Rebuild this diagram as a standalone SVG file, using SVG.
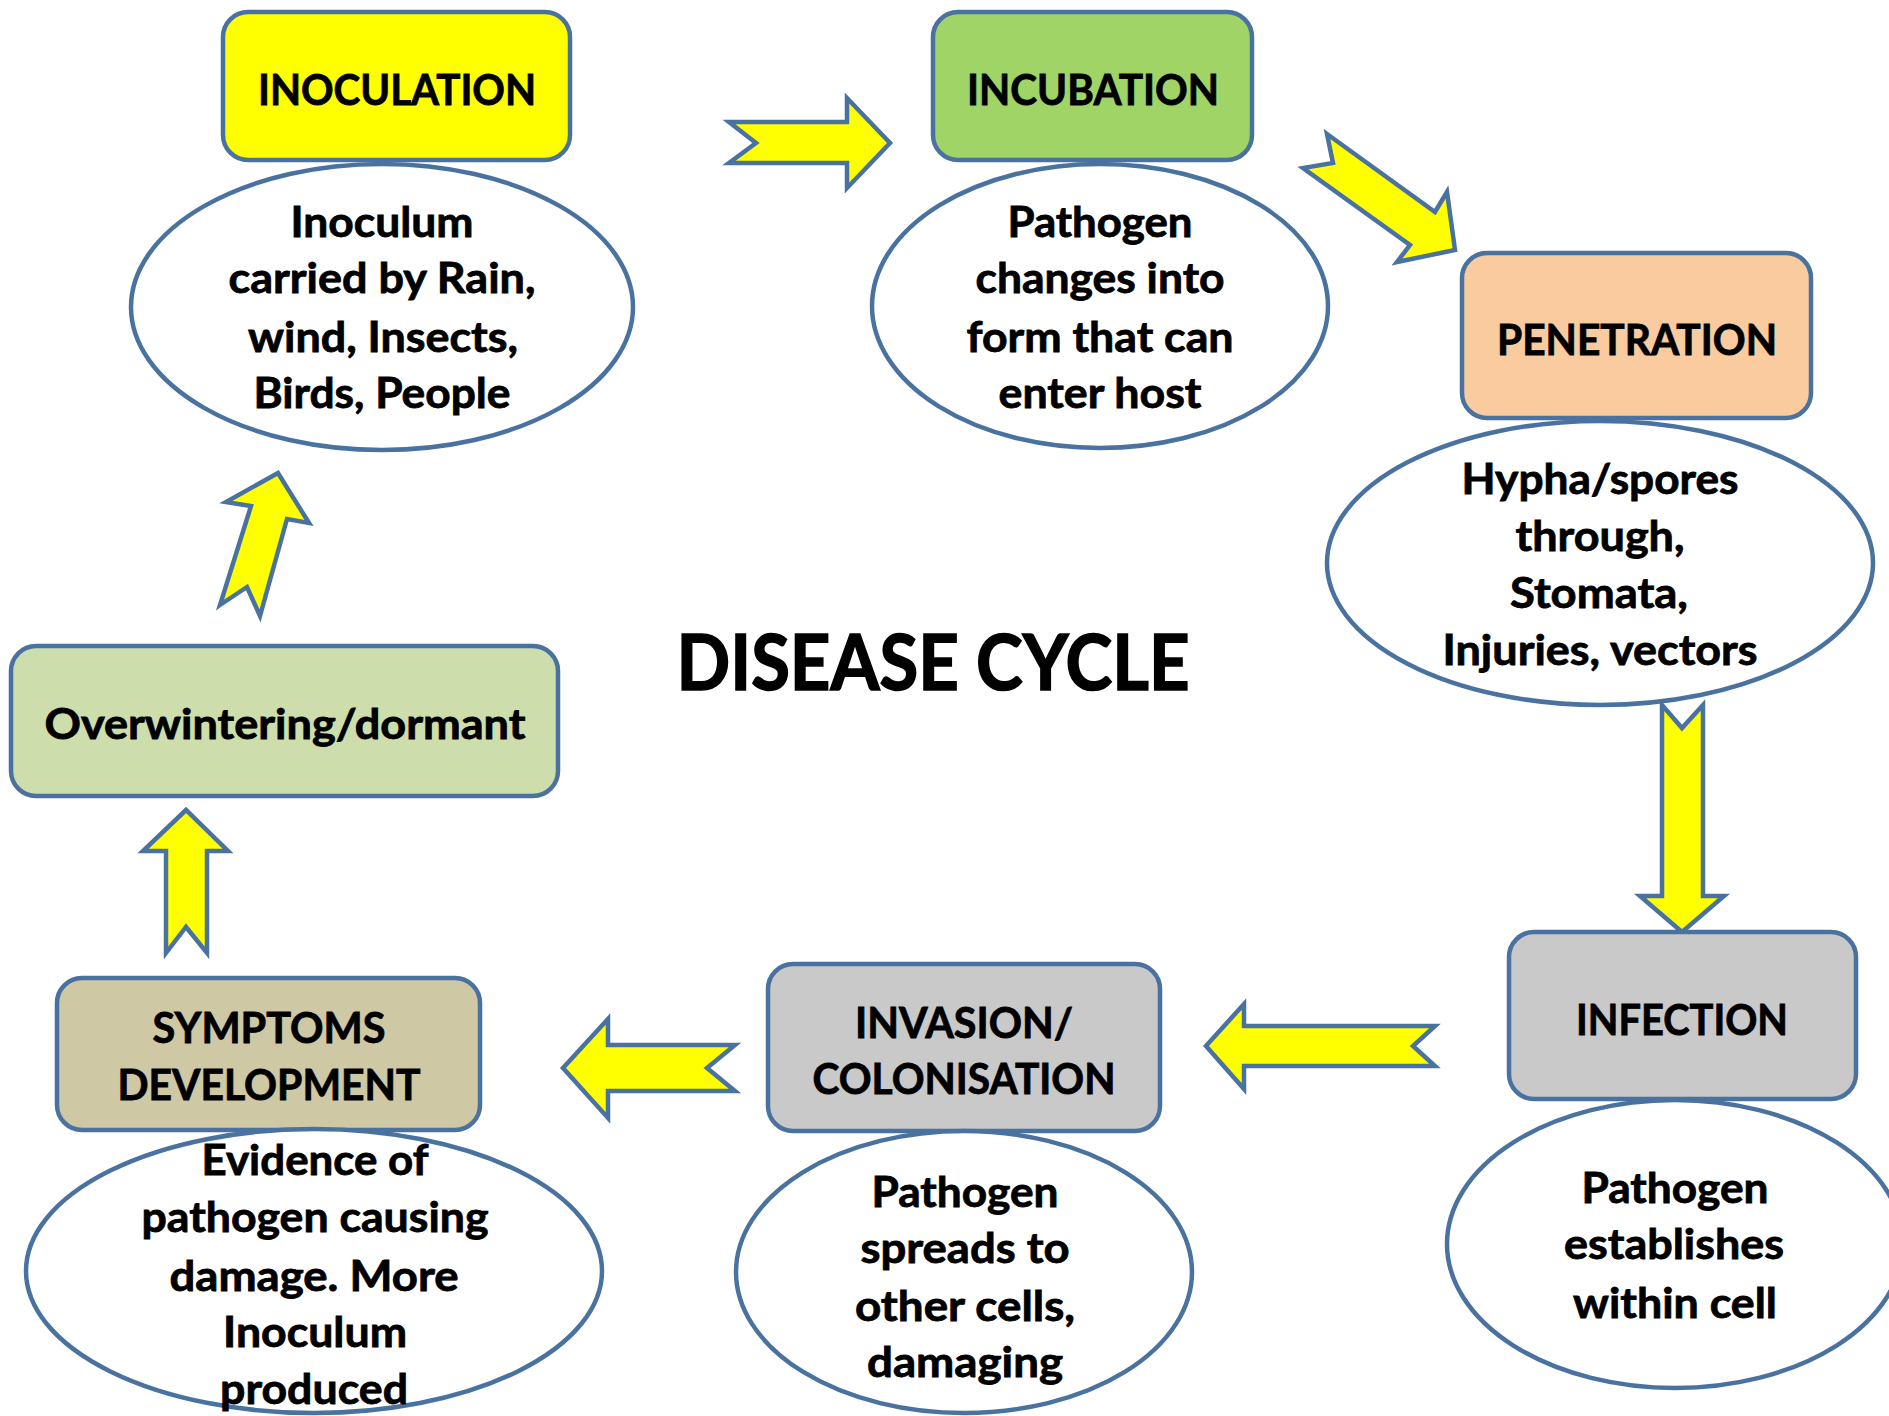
<svg xmlns="http://www.w3.org/2000/svg" width="1889" height="1416" viewBox="0 0 1889 1416">
<style>
.box{stroke:#4A72A0;stroke-width:4.5}
.ell{fill:#FFFFFF;stroke:#4A72A0;stroke-width:4.5}
.arr{fill:#FFFF00;stroke:#4A72A0;stroke-width:4.5;stroke-linejoin:miter}
text{font-family:Lato,"Open Sans","Liberation Sans",sans-serif;font-weight:700;fill:#000000;font-size:42px;stroke:#000000;stroke-width:0.8}
.title{font-size:76px;stroke-width:1.6}
</style>
<rect width="1889" height="1416" fill="#FFFFFF"/>
<g id="connectors">
<polygon class="arr" points="729,122 847,122 847,98 890,143 847,188 847,163 729,163 756,143"/>
<polygon class="arr" points="1327,134 1435,212 1447,192 1455,250 1397,262 1410,245 1303,168 1333,163"/>
<polygon class="arr" points="1662,705 1682,728 1703,705 1703,896 1724,896 1682,932 1640,896 1662,896"/>
<polygon class="arr" points="1435,1026 1413,1046 1435,1066 1244,1066 1244,1089 1206,1046 1244,1004 1244,1026"/>
<polygon class="arr" points="735,1045 707,1068 735,1091 608,1091 608,1118 563,1068 608,1019 608,1045"/>
<polygon class="arr" points="166,953 186,927 207,953 207,851 228,851 186,810 143,851 166,851"/>
<polygon class="arr" points="220,605 247,587 260,616 287,519 309,523 278,473 226,502 251,506"/>
</g>
<g id="inoculation">
<rect class="box" x="223" y="12" width="347" height="148" rx="25" fill="#FFFF00"/>
<ellipse class="ell" cx="382" cy="307" rx="251" ry="143"/>
<text x="397" y="105" text-anchor="middle" textLength="278" lengthAdjust="spacingAndGlyphs">INOCULATION</text>
<text x="382" y="237" text-anchor="middle" textLength="183" lengthAdjust="spacingAndGlyphs">Inoculum</text>
<text x="382" y="293" text-anchor="middle" textLength="307" lengthAdjust="spacingAndGlyphs">carried by Rain,</text>
<text x="383" y="352" text-anchor="middle" textLength="270" lengthAdjust="spacingAndGlyphs">wind, Insects,</text>
<text x="382" y="408" text-anchor="middle" textLength="257" lengthAdjust="spacingAndGlyphs">Birds, People</text>
</g>
<g id="incubation">
<rect class="box" x="933" y="12" width="319" height="148" rx="25" fill="#A0D466"/>
<ellipse class="ell" cx="1100" cy="306" rx="228" ry="142"/>
<text x="1093" y="105" text-anchor="middle" textLength="252" lengthAdjust="spacingAndGlyphs">INCUBATION</text>
<text x="1100" y="237" text-anchor="middle" textLength="185" lengthAdjust="spacingAndGlyphs">Pathogen</text>
<text x="1100" y="293" text-anchor="middle" textLength="249" lengthAdjust="spacingAndGlyphs">changes into</text>
<text x="1100" y="352" text-anchor="middle" textLength="267" lengthAdjust="spacingAndGlyphs">form that can</text>
<text x="1100" y="408" text-anchor="middle" textLength="203" lengthAdjust="spacingAndGlyphs">enter host</text>
</g>
<g id="penetration">
<rect class="box" x="1462" y="253" width="349" height="165" rx="25" fill="#F9CB9F"/>
<ellipse class="ell" cx="1600" cy="563" rx="273" ry="142"/>
<text x="1637" y="355" text-anchor="middle" textLength="280" lengthAdjust="spacingAndGlyphs">PENETRATION</text>
<text x="1600" y="494" text-anchor="middle" textLength="277" lengthAdjust="spacingAndGlyphs">Hypha/spores</text>
<text x="1600" y="551" text-anchor="middle" textLength="169" lengthAdjust="spacingAndGlyphs">through,</text>
<text x="1599" y="608" text-anchor="middle" textLength="178" lengthAdjust="spacingAndGlyphs">Stomata,</text>
<text x="1600" y="665" text-anchor="middle" textLength="315" lengthAdjust="spacingAndGlyphs">Injuries, vectors</text>
</g>
<g id="infection">
<rect class="box" x="1509" y="932" width="347" height="167" rx="25" fill="#C9C9C9"/>
<ellipse class="ell" cx="1675" cy="1244" rx="228" ry="144"/>
<text x="1682" y="1035" text-anchor="middle" textLength="212" lengthAdjust="spacingAndGlyphs">INFECTION</text>
<text x="1675" y="1203" text-anchor="middle" textLength="187" lengthAdjust="spacingAndGlyphs">Pathogen</text>
<text x="1674" y="1259" text-anchor="middle" textLength="220" lengthAdjust="spacingAndGlyphs">establishes</text>
<text x="1675" y="1318" text-anchor="middle" textLength="204" lengthAdjust="spacingAndGlyphs">within cell</text>
</g>
<g id="invasion">
<rect class="box" x="768" y="964" width="392" height="167" rx="25" fill="#C9C9C9"/>
<ellipse class="ell" cx="964" cy="1272" rx="228" ry="141"/>
<text x="964" y="1038" text-anchor="middle" textLength="218" lengthAdjust="spacingAndGlyphs">INVASION/</text>
<text x="964" y="1094" text-anchor="middle" textLength="303" lengthAdjust="spacingAndGlyphs">COLONISATION</text>
<text x="965" y="1207" text-anchor="middle" textLength="187" lengthAdjust="spacingAndGlyphs">Pathogen</text>
<text x="965" y="1263" text-anchor="middle" textLength="209" lengthAdjust="spacingAndGlyphs">spreads to</text>
<text x="965" y="1321" text-anchor="middle" textLength="220" lengthAdjust="spacingAndGlyphs">other cells,</text>
<text x="965" y="1377" text-anchor="middle" textLength="196" lengthAdjust="spacingAndGlyphs">damaging</text>
</g>
<g id="symptoms">
<rect class="box" x="57" y="978" width="423" height="152" rx="25" fill="#CEC8A5"/>
<ellipse class="ell" cx="314" cy="1271" rx="288" ry="142"/>
<text x="269" y="1043" text-anchor="middle" textLength="233" lengthAdjust="spacingAndGlyphs">SYMPTOMS</text>
<text x="269" y="1100" text-anchor="middle" textLength="303" lengthAdjust="spacingAndGlyphs">DEVELOPMENT</text>
<text x="315" y="1175" text-anchor="middle" textLength="227" lengthAdjust="spacingAndGlyphs">Evidence of</text>
<text x="315" y="1232" text-anchor="middle" textLength="347" lengthAdjust="spacingAndGlyphs">pathogen causing</text>
<text x="314" y="1291" text-anchor="middle" textLength="289" lengthAdjust="spacingAndGlyphs">damage. More</text>
<text x="315" y="1347" text-anchor="middle" textLength="184" lengthAdjust="spacingAndGlyphs">Inoculum</text>
<text x="314" y="1404" text-anchor="middle" textLength="188" lengthAdjust="spacingAndGlyphs">produced</text>
</g>
<g id="overwintering">
<rect class="box" x="11" y="646" width="547" height="150" rx="25" fill="#CDDDAC"/>
<text x="285" y="739" text-anchor="middle" textLength="481" lengthAdjust="spacingAndGlyphs">Overwintering/dormant</text>
</g>
<g id="title">
<text class="title" x="933" y="690" text-anchor="middle" textLength="513" lengthAdjust="spacingAndGlyphs">DISEASE CYCLE</text>
</g>
</svg>
